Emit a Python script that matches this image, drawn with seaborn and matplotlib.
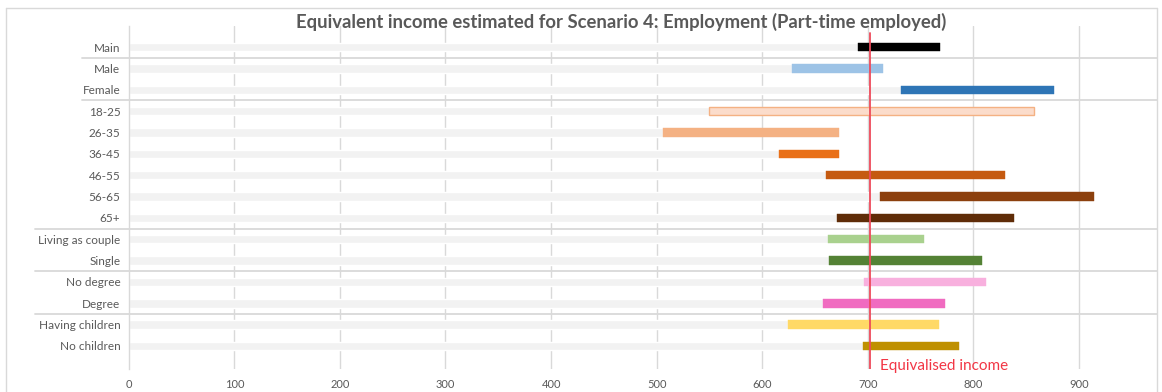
import matplotlib
matplotlib.use("Agg")
import matplotlib.pyplot as plt
import matplotlib.transforms as mtransforms
import seaborn as sns
import pandas as pd

# Estimated equivalent income ranges per group (low, high)
categories = ["Main", "Male", "Female", "18-25", "26-35", "36-45", "46-55",
              "56-65", "65+", "Living as couple", "Single", "No degree",
              "Degree", "Having children", "No children"]
low = [691, 628, 731, 550, 506, 616, 660, 712, 671, 662, 663, 696, 658, 624, 695]
high = [768, 714, 876, 857, 673, 673, 830, 914, 838, 753, 808, 812, 773, 767, 786]
bar_colors = ["#000000", "#9DC3E6", "#2E75B6", "#FBDCCB", "#F4B183", "#E97018",
              "#C55A11", "#8C400E", "#5F2C08", "#A9D18E", "#548235", "#F8B0DE",
              "#F06BC0", "#FFD966", "#BF9000"]
equivalised_income = 702
x_ticks = [0, 100, 200, 300, 400, 500, 600, 700, 800, 900]
# rows after which a group separator is drawn, with its left extent (axes fraction)
separators = [(0, -0.045), (2, -0.045), (8, -0.091), (10, -0.091), (12, -0.091)]

df = pd.DataFrame({"group": categories, "low": low,
                   "span": [h - l for h, l in zip(high, low)]})

sns.set_theme(style="white")
plt.rcParams["font.family"] = ["Lato", "DejaVu Sans"]

fig = plt.figure(figsize=(11.62, 3.92), dpi=100)
ax = fig.add_axes([0.1108, 0.0587, 0.885, 0.875])

grid_c = "#D9D9D9"
text_c = "#595959"

# light background bar from 0 to the low estimate
sns.barplot(data=df, y="group", x="low", orient="h", color="#F2F2F2",
            width=0.4, ax=ax, saturation=1, zorder=2)
n_bg = len(ax.patches)

# coloured range bar from low to high
sns.barplot(data=df, y="group", x="span", orient="h", hue="group",
            palette=bar_colors, legend=False, width=0.4, ax=ax,
            saturation=1, zorder=3)
for p, l in zip(ax.patches[n_bg:], low):
    p.set_x(l)
for i, p in enumerate(ax.patches[n_bg:]):
    if categories[i] == "18-25":
        p.set_edgecolor("#F4B183")
        p.set_linewidth(1.0)
    else:
        p.set_edgecolor(p.get_facecolor())
        p.set_linewidth(0.3)

ax.set_xlim(0, 974)
ax.set_ylim(len(categories) - 1 + 1.08, -0.99)
ax.set_xticks(x_ticks)
ax.set_xticklabels([str(t) for t in x_ticks])
ax.set_xlabel("")
ax.set_ylabel("")

for t in x_ticks[1:]:
    ax.axvline(t, color=grid_c, lw=1.0, zorder=1)

for s in ["top", "right", "bottom"]:
    ax.spines[s].set_visible(False)
ax.spines["left"].set_color(grid_c)
ax.spines["left"].set_linewidth(1.0)

ax.tick_params(axis="y", length=0, pad=6, labelsize=8.5, labelcolor=text_c)
ax.tick_params(axis="x", length=0, pad=7.5, labelsize=8, labelcolor=text_c)

# group separators
sep_tf = mtransforms.blended_transform_factory(ax.transAxes, ax.transData)
for row, x0 in separators:
    ax.plot([x0, 1.0], [row + 0.5, row + 0.5], color=grid_c, lw=1.3,
            transform=sep_tf, clip_on=False, zorder=1)

# equivalised income reference line
ax.axvline(equivalised_income, ymin=0.0, ymax=0.98, color="#EE4A5A", lw=1.3, zorder=5)
ax.text(equivalised_income + 10, len(categories) - 1 + 0.95, "Equivalised income",
        color="#F23645", fontsize=11, ha="left", va="center", zorder=6)

# chart frame
frame_kw = dict(color=grid_c, lw=1.0, transform=fig.transFigure, clip_on=False)
fig.add_artist(plt.Line2D([6 / 1162, 1157 / 1162], [1 - 8 / 392, 1 - 8 / 392], **frame_kw))
fig.add_artist(plt.Line2D([6 / 1162, 6 / 1162], [0, 1 - 8 / 392], **frame_kw))
fig.add_artist(plt.Line2D([1157 / 1162, 1157 / 1162], [0, 1 - 8 / 392], **frame_kw))

fig.text(621 / 1162, 1 - 22 / 392,
         "Equivalent income estimated for Scenario 4: Employment (Part-time employed)",
         ha="center", va="center", fontsize=13.3, fontweight="bold", color=text_c)

fig.savefig("out.png", dpi=100)
